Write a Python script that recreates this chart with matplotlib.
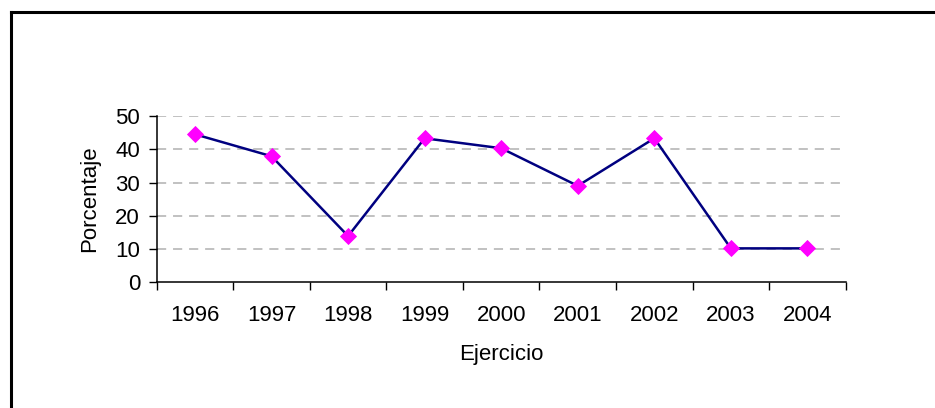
import matplotlib
matplotlib.use("Agg")
import matplotlib.pyplot as plt
from matplotlib.lines import Line2D

years = ["1996", "1997", "1998", "1999", "2000", "2001", "2002", "2003", "2004"]
porcentaje = [44.5, 37.9, 13.9, 43.3, 40.3, 29.0, 43.3, 10.2, 10.2]
y_ticks = [0, 10, 20, 30, 40, 50]

plt.rcParams['font.family'] = ['Liberation Sans', 'DejaVu Sans']

W, H = 935, 408
fig = plt.figure(figsize=(W / 100, H / 100), dpi=100)
fig.patch.set_facecolor('white')

left, right, top, bottom = 156.7, 845.7, 116.0, 282.3
ax = fig.add_axes([left / W, 1 - bottom / H, (right - left) / W, (bottom - top) / H])

x = list(range(len(years)))
ax.plot(x, porcentaje, color='#000080', lw=1.8, marker='D', ms=8.0,
        mfc='#FF00FF', mec='#FF00FF', mew=0.6, zorder=3, clip_on=False)

fs = 16
ax.set_xlim(-0.5, len(years) - 0.5)
ax.set_ylim(0, 50)
ax.set_yticks(y_ticks)
ax.set_xticks([i - 0.5 for i in range(len(years) + 1)])
ax.set_xticklabels([])
ax.set_xticks(x, minor=True)
ax.set_xticklabels(years, minor=True)
ax.tick_params(axis='x', which='major', length=6, width=1, color='black', direction='out')
ax.tick_params(axis='x', which='minor', length=0, pad=16, labelsize=fs)
ax.tick_params(axis='y', length=6, width=1, direction='out', pad=6, labelsize=fs)

for s in ['top', 'right']:
    ax.spines[s].set_visible(False)
for s in ['left', 'bottom']:
    ax.spines[s].set_color('black')
    ax.spines[s].set_linewidth(1.1)

for v in y_ticks[1:]:
    ax.axhline(v, color='#b0b0b0', lw=1.1, ls=(0, (6, 4.5)), zorder=1)

ax.set_ylabel('Porcentaje', fontsize=fs, labelpad=11)
ax.set_xlabel('Ejercicio', fontsize=fs, labelpad=13)

# outer frame (left and top edges visible)
fig.add_artist(Line2D([10.5 / W, 10.5 / W], [1 - 11.5 / H, 0], color='black', lw=2.2,
                      transform=fig.transFigure))
fig.add_artist(Line2D([10.5 / W, 1], [1 - 12 / H, 1 - 12 / H], color='black', lw=2.2,
                      transform=fig.transFigure, solid_capstyle='projecting'))

fig.savefig('out.png', dpi=100, facecolor='white')
